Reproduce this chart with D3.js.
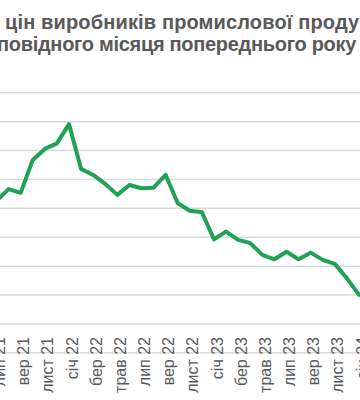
<!DOCTYPE html>
<html>
<head>
<meta charset="utf-8">
<script src="https://cdn.jsdelivr.net/npm/d3@7"></script>
<style>
    body { margin: 0; background: #fff; }
    svg { display: block; }
</style>
</head>
<body>
<div id="chart"></div>
<script>
// monthly data, Jul 2021 .. Jan 2024
const months = ['лип 21', 'сер 21', 'вер 21', 'жовт 21', 'лист 21', 'груд 21',
    'січ 22', 'лют 22', 'бер 22', 'квіт 22', 'трав 22', 'черв 22',
    'лип 22', 'сер 22', 'вер 22', 'жовт 22', 'лист 22', 'груд 22',
    'січ 23', 'лют 23', 'бер 23', 'квіт 23', 'трав 23', 'черв 23',
    'лип 23', 'сер 23', 'вер 23', 'жовт 23', 'лист 23', 'груд 23', 'січ 24'];

const ppi = [42.4, 46.5, 45.2, 56.6, 60.4, 62.3,
    69.0, 53.5, 51.4, 48.3, 44.5, 47.9,
    46.8, 47.0, 51.4, 41.6, 39.0, 38.5,
    29.1, 31.8, 28.9, 27.8, 23.7, 22.2,
    24.8, 22.2, 24.5, 22.0, 20.6, 15.6, 9.9];

// every other month gets a label
const tickLabels = months.filter((m, i) => i % 2 === 0);

const gridValues = [-10, 0, 10, 20, 30, 40, 50, 60, 70, 80];

// title is cropped on both sides in the original
const titleLines = ['цін виробників промислової продукції',
    'у % до відповідного місяця попереднього року'];

const WIDTH = 360;
const HEIGHT = 400;

const svg = d3.select('#chart')
    .append('svg')
    .attr('width', WIDTH)
    .attr('height', HEIGHT);

const x = d3.scalePoint()
    .domain(months)
    .range([-3.5, 359]);

const y = d3.scaleLinear()
    .domain([-10, 80])
    .range([352.3, 92.3]);

// gridlines
const grid = svg.append('g')
    .call(d3.axisLeft(y).tickValues(gridValues).tickSize(-WIDTH).tickFormat(''));
grid.select('.domain').remove();
grid.selectAll('line')
    .attr('stroke', '#d9d9d9')
    .attr('stroke-width', 1.5);

// x labels, rotated
svg.append('g')
    .selectAll('text')
    .data(tickLabels)
    .join('text')
    .attr('transform', d => `translate(${x(d) + 3},337) rotate(-90)`)
    .attr('dy', '0.35em')
    .attr('text-anchor', 'end')
    .style('font-family', '"Liberation Sans", Arial, sans-serif')
    .style('font-size', '16px')
    .style('fill', '#595959')
    .text(d => d);

// line
const line = d3.line()
    .x((d, i) => x(months[i]))
    .y(d => y(d));

svg.append('path')
    .datum(ppi)
    .attr('d', line)
    .attr('fill', 'none')
    .attr('stroke', '#21a153')
    .attr('stroke-width', 4)
    .attr('stroke-linejoin', 'round')
    .attr('stroke-linecap', 'round');

// title
const titleStyle = sel => sel
    .style('font-family', '"Liberation Sans", Arial, sans-serif')
    .style('font-size', '20px')
    .style('font-weight', 'bold')
    .style('fill', '#595959');

svg.append('text')
    .call(titleStyle)
    .style('letter-spacing', '0.15px')
    .attr('x', 5)
    .attr('y', 29)
    .text(titleLines[0]);

svg.append('text')
    .call(titleStyle)
    .style('letter-spacing', '-0.3px')
    .attr('x', 356)
    .attr('y', 51)
    .attr('text-anchor', 'end')
    .text(titleLines[1]);
</script>
</body>
</html>
